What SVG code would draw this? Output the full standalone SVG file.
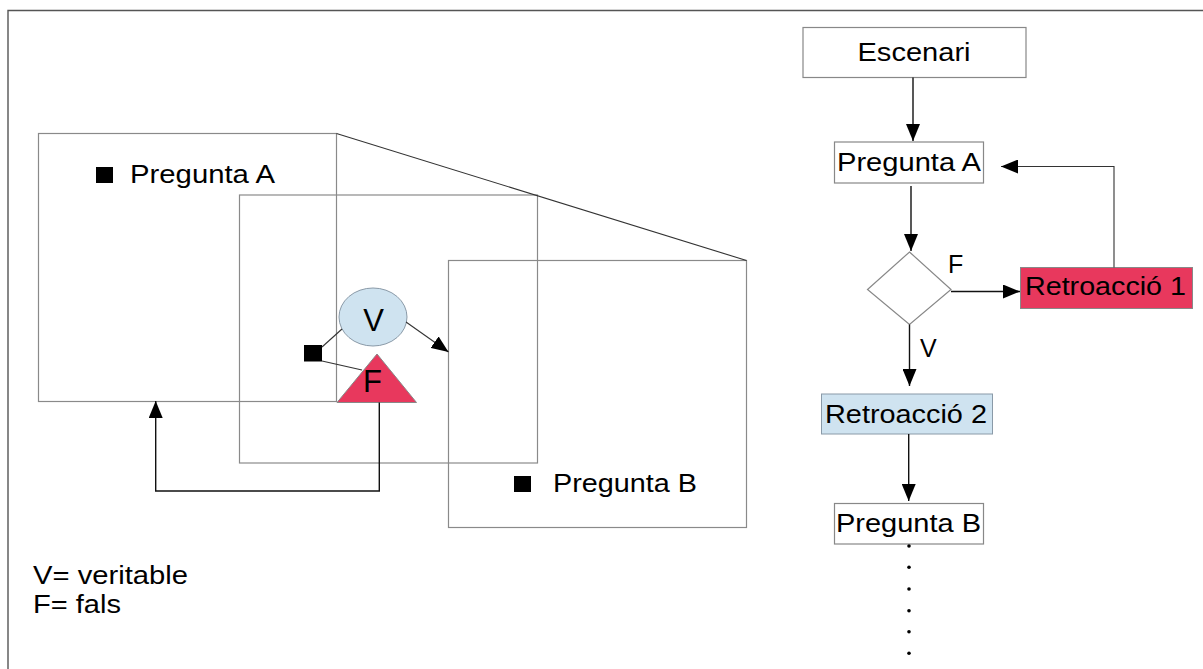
<svg xmlns="http://www.w3.org/2000/svg" width="1203" height="669" viewBox="0 0 1203 669">
<style>
text{font-family:"Liberation Sans",Arial,sans-serif;font-size:25px;fill:#000}
text.big{font-size:31px}
.frame{fill:none;stroke:#555;stroke-width:1.4}
.box{fill:#fff;stroke:#888;stroke-width:1.2}
.gbox{fill:none;stroke:#8a8a8a;stroke-width:1.2}
.con{fill:none;stroke:#111;stroke-width:1.4}
.thin{fill:none;stroke:#333;stroke-width:1.1}
.red{fill:#e8385d;stroke:#888;stroke-width:1}
.blue{fill:#cfe3f0;stroke:#8a9aa8;stroke-width:1}
</style>
<defs>
<marker id="ah" markerUnits="userSpaceOnUse" markerWidth="18" markerHeight="14" refX="17" refY="7" orient="auto">
<path d="M0,0 L17,7 L0,14 z" fill="#000"/>
</marker>
</defs>
<rect width="1203" height="669" fill="#fff"/>
<path class="frame" d="M8,669 V10.5 H1203"/>

<g id="left-rects">
<rect class="gbox" x="38.5" y="133.5" width="298" height="268"/>
<rect class="gbox" x="239.5" y="195" width="298" height="268"/>
<rect class="gbox" x="448.5" y="260.5" width="298" height="267"/>
<line class="thin" x1="336.5" y1="133.5" x2="746.5" y2="260.5"/>
</g>

<g id="pregunta-a-left">
<rect x="96" y="167" width="17" height="16" fill="#000"/>
<text x="130" y="183" textLength="145" lengthAdjust="spacingAndGlyphs">Pregunta A</text>
</g>

<g id="pregunta-b-left">
<rect x="514" y="476" width="17" height="16" fill="#000"/>
<text x="553" y="491.5" textLength="144" lengthAdjust="spacingAndGlyphs">Pregunta B</text>
</g>

<g id="small-square">
<rect x="304" y="345" width="18" height="16.5" fill="#000"/>
</g>

<g id="v-ellipse">
<ellipse class="blue" cx="373" cy="317" rx="34" ry="29"/>
<text class="big" x="373.5" y="330.5" text-anchor="middle">V</text>
</g>

<g id="f-triangle">
<polygon class="red" points="377,354 337,402.5 416.5,402.5" stroke="none"/>
<text class="big" x="372.5" y="391.5" text-anchor="middle">F</text>
</g>

<g id="escenari">
<rect class="box" x="803" y="27.5" width="223" height="50"/>
<text x="857.5" y="60.5" textLength="113" lengthAdjust="spacingAndGlyphs">Escenari</text>
</g>

<g id="pregunta-a">
<rect class="box" x="834.5" y="142" width="149" height="41"/>
<text x="837" y="170.5" textLength="144" lengthAdjust="spacingAndGlyphs">Pregunta A</text>
</g>

<g id="decision">
<polygon class="box" points="909.5,252 951,289.5 909.5,324.5 867.5,289.5"/>
</g>

<g id="retroaccio-1">
<rect class="red" x="1020.5" y="267.5" width="172" height="41"/>
<text x="1025" y="295" textLength="161" lengthAdjust="spacingAndGlyphs">Retroacció 1</text>
</g>

<g id="retroaccio-2">
<rect class="blue" x="821.5" y="394" width="171" height="40"/>
<text x="825" y="423" textLength="162" lengthAdjust="spacingAndGlyphs">Retroacció 2</text>
</g>

<g id="pregunta-b">
<rect class="box" x="834.5" y="503.5" width="149" height="40.5"/>
<text x="836" y="531.5" textLength="145" lengthAdjust="spacingAndGlyphs">Pregunta B</text>
</g>

<g id="legend">
<text x="33" y="584" textLength="155" lengthAdjust="spacingAndGlyphs">V= veritable</text>
<text x="33" y="612.5" textLength="88" lengthAdjust="spacingAndGlyphs">F= fals</text>
</g>

<g id="connectors">
<line class="thin" x1="322" y1="347" x2="342" y2="329"/>
<line class="thin" x1="322" y1="361" x2="362" y2="370"/>
<line class="thin" x1="406" y1="322" x2="448.5" y2="352" marker-end="url(#ah)"/>
<path class="con" d="M379.3,402.5 V491 H155.7 V401" marker-end="url(#ah)"/>
<line class="con" x1="913" y1="77.5" x2="913" y2="141" marker-end="url(#ah)"/>
<line class="con" x1="911" y1="186" x2="911" y2="251" marker-end="url(#ah)"/>
<line class="con" x1="951" y1="291.5" x2="1020" y2="291.5" marker-end="url(#ah)"/>
<text x="948" y="273">F</text>
<path class="thin" d="M1114,267.5 V166.5 H1001" marker-end="url(#ah)"/>
<line class="con" x1="909.5" y1="324.5" x2="909.5" y2="386" marker-end="url(#ah)"/>
<text x="920" y="356.5">V</text>
<line class="con" x1="908.7" y1="434" x2="908.7" y2="501" marker-end="url(#ah)"/>
<g fill="#000">
<circle cx="909" cy="546" r="1.8"/>
<circle cx="909" cy="567.3" r="1.8"/>
<circle cx="909" cy="589" r="1.8"/>
<circle cx="909" cy="610.7" r="1.8"/>
<circle cx="909" cy="631.7" r="1.8"/>
<circle cx="909" cy="653.3" r="1.8"/>
</g>
</g>
</svg>
